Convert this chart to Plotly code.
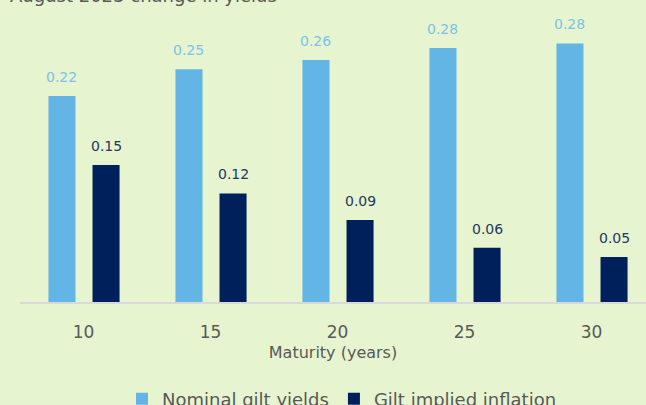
import plotly.graph_objects as go

categories = ["10", "15", "20", "25", "30"]
nominal = [0.224, 0.253, 0.263, 0.276, 0.281]
inflation = [0.149, 0.118, 0.089, 0.059, 0.049]
nominal_labels = ["0.22", "0.25", "0.26", "0.28", "0.28"]
inflation_labels = ["0.15", "0.12", "0.09", "0.06", "0.05"]

xpos = list(range(len(categories)))
FONT = "DejaVu Sans"
BG = "#E6F4CF"
BAR_W = 0.213
OFF_NOM = -0.276
OFF_INF = 0.071

fig = go.Figure()
fig.add_trace(go.Bar(
    x=xpos, y=nominal, name="Nominal gilt yields",
    marker=dict(color="#62B5E5", line=dict(width=0)),
    width=BAR_W, offset=OFF_NOM,
))
fig.add_trace(go.Bar(
    x=xpos, y=inflation, name="Gilt implied inflation",
    marker=dict(color="#00205B", line=dict(width=0)),
    width=BAR_W, offset=OFF_INF,
))

annotations = []
for i, (v, t) in enumerate(zip(nominal, nominal_labels)):
    annotations.append(dict(x=i + OFF_NOM + BAR_W / 2, y=v, xref="x", yref="y", text=t,
                            showarrow=False, yanchor="bottom", yshift=9,
                            font=dict(family=FONT, size=14, color="#7DC2EA")))
for i, (v, t) in enumerate(zip(inflation, inflation_labels)):
    annotations.append(dict(x=i + OFF_INF + BAR_W / 2, y=v, xref="x", yref="y", text=t,
                            showarrow=False, yanchor="bottom", yshift=9,
                            font=dict(family=FONT, size=14, color="#1F3864")))

fig.update_layout(
    width=646, height=405,
    margin=dict(l=20, r=0, t=20, b=103),
    paper_bgcolor=BG, plot_bgcolor=BG,
    barmode="overlay",
    font=dict(family=FONT, color="#595959"),
    annotations=annotations,
    title=dict(text="August 2023 change in yields", x=10/646, xanchor="left",
               xref="container", yref="container", y=0.994, yanchor="bottom",
               font=dict(size=18, color="#595959", family=FONT)),
    xaxis=dict(
        range=[-0.5, -0.5 + 626/127], tickmode="array", tickvals=xpos, ticktext=categories,
        showgrid=False, zeroline=False, showline=True, linecolor="#D9D9D9", linewidth=2,
        ticks="", tickfont=dict(size=17, color="#595959"), ticklabelstandoff=14,
        title=dict(text="Maturity (years)", font=dict(size=16, color="#595959"), standoff=5),
    ),
    yaxis=dict(range=[0, 282/920], visible=False, showgrid=False, zeroline=False),
    legend=dict(orientation="h", xref="container", yref="container",
                x=0.5 + 19/646, xanchor="center", y=0.015, yanchor="middle",
                font=dict(size=18, color="#595959"), bgcolor="rgba(0,0,0,0)",
                itemwidth=30, traceorder="normal"),
    showlegend=True,
)
fig.write_html("out.html")
